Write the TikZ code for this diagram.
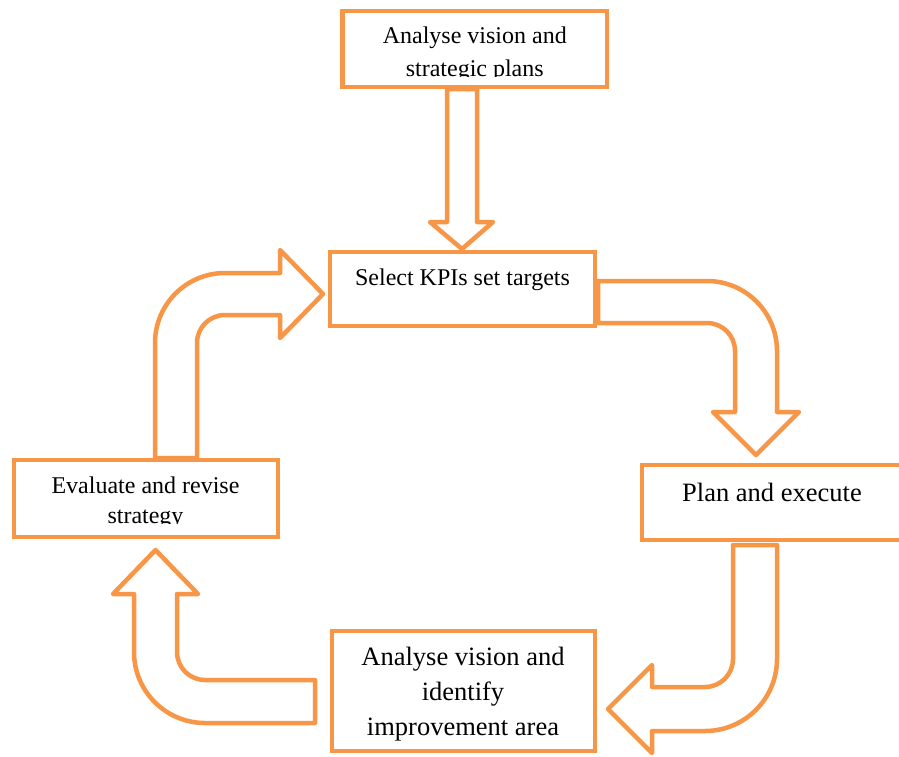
\documentclass[tikz,border=0pt]{standalone}
\usepackage{fontspec}
\setmainfont{Liberation Serif}
\definecolor{boxorange}{HTML}{F79646}
\tikzset{
  stepbox/.style={draw=boxorange, line width=4.5pt, fill=white, rectangle, inner sep=0pt},
  blockarrow/.style={draw=boxorange, line width=4.5pt, fill=white, line join=round},
  smalltxt/.style={font=\fontsize{24}{33}\selectfont, align=center, anchor=base, inner sep=0pt},
  bigtxt/.style={font=\fontsize{26.5}{35}\selectfont, align=center, anchor=base, inner sep=0pt}
}
\begin{document}
\begin{tikzpicture}[x=1pt, y=-1pt]
\useasboundingbox (0,0) rectangle (899,756);
\clip (0,0) rectangle (899,756);

% block arrows between the steps
\draw[blockarrow] (447,89) -- (447,222) -- (430,222) -- (462,249) -- (493,222) -- (477,222) -- (477,89) -- cycle;
\draw[blockarrow] (598,281) -- (707,281) .. controls (745.66,281) and (777,312.34) .. (777,351)
  -- (777,412) -- (799,412) -- (756,455) -- (713,412) -- (735,412) -- (735,351)
  .. controls (735,335.54) and (722.46,323) .. (707,323) -- (598,323) -- cycle;
\draw[blockarrow] (733,545) -- (733,659) .. controls (733,674.46) and (720.46,687) .. (705,687)
  -- (652,687) -- (652,665) -- (608,709) -- (652,753) -- (652,731) -- (705,731)
  .. controls (744.77,731) and (777,698.77) .. (777,659) -- (777,545) -- cycle;
\draw[blockarrow] (315,680) -- (205,680) .. controls (189.54,680) and (177,667.46) .. (177,652)
  -- (177,594) -- (198,594) -- (155.5,550) -- (113,594) -- (134,594) -- (134,652)
  .. controls (134,691.21) and (165.79,723) .. (205,723) -- (315,723) -- cycle;
\draw[blockarrow] (155,458) -- (155,343) .. controls (155,304.34) and (186.34,273) .. (225,273)
  -- (280,273) -- (280,250) -- (323,294) -- (280,338) -- (280,315) -- (225,315)
  .. controls (209.54,315) and (197,327.46) .. (197,343) -- (197,458) -- cycle;

% step boxes
\node[stepbox, minimum width=264.5pt, minimum height=76pt] (vision) at (474.75,49) {};
\node[stepbox, minimum width=265pt, minimum height=74pt] (kpis) at (462.5,289) {};
\node[stepbox, minimum width=261pt, minimum height=75pt] (plan) at (772.5,502.5) {};
\node[stepbox, minimum width=264pt, minimum height=77pt] (evaluate) at (146,498.5) {};
\node[stepbox, minimum width=263pt, minimum height=120pt] (improve) at (463.5,691) {};

% step texts (the anchor sits on the baseline of the last line)
\begin{scope}
  \clip (344,13) rectangle (605,76.5);
  \node[smalltxt] (visiontext) at (474.75,76) {Analyse vision and\\strategic plans};
\end{scope}
\node[smalltxt] (kpistext) at (462.5,285) {Select KPIs set targets};
\node[bigtxt] (plantext) at (772,501) {Plan and execute};
\begin{scope}
  \clip (16,462) rectangle (276,523.5);
  \node[smalltxt, font=\fontsize{24}{30}\selectfont] (evaluatetext) at (145.5,523) {Evaluate and revise\\strategy};
\end{scope}
\node[bigtxt] (improvetext) at (463,735) {Analyse vision and\\identify\\improvement area};
\end{tikzpicture}
\end{document}
